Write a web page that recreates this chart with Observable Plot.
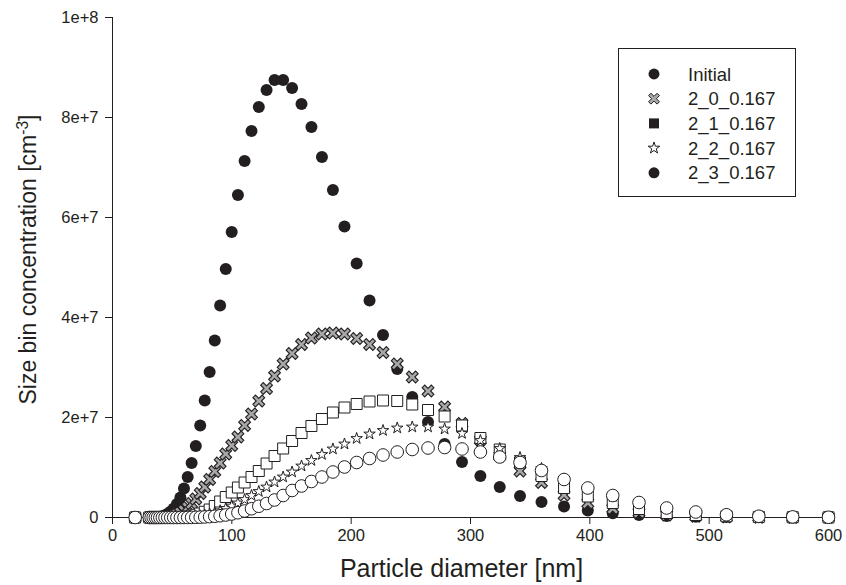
<!DOCTYPE html>
<html><head><meta charset="utf-8">
<script src="https://cdn.jsdelivr.net/npm/d3@7"></script>
<script src="https://cdn.jsdelivr.net/npm/@observablehq/plot@0.6"></script>
<style>
body{margin:0;background:#fff;}
#wrap{position:relative;width:846px;height:585px;font-family:Arial,"Liberation Sans",Helvetica,sans-serif;}
#legend{position:absolute;left:618px;top:48px;}
</style></head><body><div id="wrap"></div>
<script>
// particle diameter bins [nm]
const diameters = [19.0, 30.8, 32.4, 34.1, 35.9, 37.7, 39.7, 41.8, 44.0, 46.3, 48.8, 51.3, 54.0, 56.9, 59.9, 63.0, 66.3, 69.8, 73.5, 77.3, 81.4, 85.7, 90.2, 94.9, 99.9, 105.1, 110.7, 116.5, 122.6, 129.1, 135.8, 143.0, 150.5, 158.4, 166.7, 175.5, 184.7, 194.4, 204.6, 215.4, 226.7, 238.6, 251.2, 264.4, 278.3, 292.9, 308.3, 324.5, 341.5, 359.5, 378.4, 398.3, 419.2, 441.2, 464.4, 488.8, 514.5, 541.6, 570.0, 600.0];
// concentrations in units of 1e6 cm^-3
const initial = [0, 0, 0.01, 0.02, 0.04, 0.08, 0.15, 0.27, 0.45, 0.75, 1.2, 1.8, 2.7, 4.0, 5.8, 8.1, 10.9, 14.3, 18.4, 23.4, 29.1, 35.4, 42.4, 49.7, 57.1, 64.5, 71.3, 77.3, 82.1, 85.5, 87.5, 87.5, 85.9, 82.7, 78.1, 72.1, 65.5, 58.2, 50.8, 43.4, 36.5, 29.7, 24.1, 19.1, 14.7, 11.1, 8.3, 6.1, 4.3, 3.1, 2.2, 1.4, 0.87, 0.5, 0.3, 0.15, 0.08, 0.04, 0.02, 0.01];
const s2_0 = [0, 0, 0, 0, 0, 0, 0.01, 0.03, 0.06, 0.12, 0.22, 0.38, 0.6, 0.95, 1.4, 2.0, 2.8, 3.7, 4.8, 6.1, 7.6, 9.2, 10.9, 12.7, 14.4, 16.1, 18.4, 20.7, 23.3, 25.8, 28.3, 30.7, 32.8, 34.6, 35.9, 36.7, 36.9, 36.7, 35.8, 34.6, 33.0, 30.7, 28.1, 25.3, 22.1, 18.8, 15.5, 12.3, 9.3, 7.0, 4.5, 2.9, 1.8, 1.0, 0.5, 0.25, 0.12, 0.05, 0.02, 0.01];
const s2_1 = [0, 0, 0, 0, 0, 0, 0, 0, 0, 0.01, 0.02, 0.03, 0.05, 0.08, 0.12, 0.2, 0.35, 0.55, 0.8, 1.15, 1.6, 2.3, 3.2, 4.1, 5.0, 6.0, 7.0, 8.1, 9.3, 10.8, 12.3, 13.8, 15.3, 16.9, 18.3, 19.7, 21.0, 22.0, 22.7, 23.2, 23.4, 23.3, 22.6, 21.5, 20.2, 18.4, 15.9, 13.6, 11.0, 8.3, 5.9, 4.2, 2.9, 1.7, 0.9, 0.5, 0.25, 0.12, 0.05, 0.02];
const s2_2 = [0, 0, 0, 0, 0, 0, 0, 0, 0, 0, 0, 0, 0.01, 0.02, 0.04, 0.08, 0.14, 0.22, 0.33, 0.5, 0.7, 1.0, 1.35, 1.8, 2.3, 2.9, 3.6, 4.4, 5.2, 6.1, 7.1, 8.1, 9.1, 10.3, 11.4, 12.6, 13.7, 14.7, 15.8, 16.7, 17.4, 17.9, 18.1, 18.1, 17.7, 16.8, 15.4, 13.8, 12.0, 9.8, 7.6, 5.8, 4.2, 2.9, 1.9, 1.1, 0.6, 0.3, 0.15, 0.07];
const s2_3 = [0, 0, 0, 0, 0, 0, 0, 0, 0, 0, 0, 0, 0, 0, 0, 0.01, 0.02, 0.04, 0.07, 0.11, 0.17, 0.25, 0.35, 0.5, 0.7, 0.95, 1.3, 1.75, 2.25, 2.8, 3.5, 4.4, 5.4, 6.3, 7.2, 8.1, 9.1, 10.1, 11.0, 11.8, 12.5, 13.1, 13.6, 13.9, 14.0, 13.7, 13.1, 12.1, 11.0, 9.4, 7.6, 5.9, 4.4, 3.0, 1.9, 1.1, 0.55, 0.25, 0.12, 0.05];

const seriesNames = ["Initial", "2_0_0.167", "2_1_0.167", "2_2_0.167", "2_3_0.167"];
const xTicks = [0, 100, 200, 300, 400, 500, 600];
const yTicks = [0, 2e7, 4e7, 6e7, 8e7, 1e8];
const yTickLabels = ["0", "2e+7", "4e+7", "6e+7", "8e+7", "1e+8"];
const xTitle = "Particle diameter [nm]";
const yTitle = "Size bin concentration [cm-3]";

const rows = arr => diameters.map((d, i) => ({d, v: arr[i] * 1e6}));

const ink = "#231f20";
const font = 'Arial, "Liberation Sans", Helvetica, sans-serif';
const xSymbol = {
  draw(context, size) {
    const a = Math.sqrt(size / Math.PI), t = a * 0.28, L = a;
    const pts = [[t,L],[t,t],[L,t],[L,-t],[t,-t],[t,-L],[-t,-L],[-t,-t],[-L,-t],[-L,t],[-t,t],[-t,L]]
      .map(([x, y]) => [(x - y) / Math.SQRT2, (x + y) / Math.SQRT2]);
    context.moveTo(pts[0][0], pts[0][1]);
    for (let i = 1; i < pts.length; i++) context.lineTo(pts[i][0], pts[i][1]);
    context.closePath();
  }
};

const chart = Plot.plot({
  width: 846, height: 585,
  marginLeft: 112, marginRight: 18, marginTop: 17, marginBottom: 68,
  style: {fontFamily: font, color: ink, background: "white", overflow: "visible"},
  x: {domain: [0, 600]},
  y: {domain: [0, 1e8]},
  marks: [
    Plot.axisX({ticks: xTicks, tickSize: 7, tickPadding: 5, fontSize: 16.5, label: null, stroke: ink}),
    Plot.axisY({ticks: yTicks, tickFormat: (d, i) => yTickLabels[i], tickSize: 7, tickPadding: 7, fontSize: 16.5, label: null, stroke: ink}),
    Plot.text([xTitle], {frameAnchor: "bottom", lineAnchor: "middle", dy: 51, dx: -9, fontSize: 25, fill: ink}),
    Plot.text([yTitle], {frameAnchor: "left", textAnchor: "middle", lineAnchor: "middle", dx: -84, dy: -8, rotate: -90, fontSize: 23, fill: ink}),
    Plot.ruleY([0], {stroke: ink, strokeWidth: 1}),
    Plot.ruleX([0], {stroke: ink, strokeWidth: 1}),
    Plot.dot(rows(initial), {x: "d", y: "v", r: 6, fill: ink, stroke: "none"}),
    Plot.dot(rows(s2_0), {x: "d", y: "v", r: 6.5, symbol: xSymbol, fill: "#a8a8a8", stroke: ink, strokeWidth: 1.1}),
    Plot.dot(rows(s2_1), {x: "d", y: "v", r: 6.2, symbol: "square", fill: "white", stroke: ink, strokeWidth: 1}),
    Plot.dot(rows(s2_2), {x: "d", y: "v", r: 3.6, symbol: "star", fill: "white", stroke: ink, strokeWidth: 1}),
    Plot.dot(rows(s2_3), {x: "d", y: "v", r: 6.3, fill: "white", stroke: ink, strokeWidth: 1})
  ]
});

// superscript in y title
const yt = Array.from(chart.querySelectorAll("text")).find(t => t.textContent === yTitle);
if (yt) {
  yt.textContent = "";
  const ns = "http://www.w3.org/2000/svg";
  const a = document.createElementNS(ns, "tspan"); a.textContent = "Size bin concentration [cm"; yt.appendChild(a);
  const b = document.createElementNS(ns, "tspan"); b.textContent = "-3"; b.setAttribute("dy", "-0.5em"); b.setAttribute("font-size", "0.68em"); yt.appendChild(b);
  const c = document.createElementNS(ns, "tspan"); c.textContent = "]"; c.setAttribute("dy", "0.34em"); yt.appendChild(c);
}

const wrap = document.getElementById("wrap");
wrap.appendChild(chart);

// legend box
const lw = 178, lh = 149;
const leg = d3.select(wrap).append("svg").attr("id", "legend").attr("width", lw).attr("height", lh)
  .style("font-family", font);
leg.append("rect").attr("x", 0.5).attr("y", 0.5).attr("width", lw - 1).attr("height", lh - 1)
  .attr("fill", "white").attr("stroke", ink).attr("stroke-width", 1);
const legSym = [
  {type: d3.symbolCircle, size: Math.PI * 30, fill: ink, stroke: "none"},
  {type: xSymbol, size: Math.PI * 36, fill: "#a8a8a8", stroke: ink},
  {type: d3.symbolSquare, size: 100, fill: ink, stroke: "none"},
  {type: d3.symbolStar, size: 42, fill: "white", stroke: ink},
  {type: d3.symbolCircle, size: Math.PI * 30, fill: ink, stroke: "none"}
];
seriesNames.forEach((name, i) => {
  const y = 26 + i * 24.7;
  const s = legSym[i];
  leg.append("path").attr("d", d3.symbol(s.type, s.size)()).attr("transform", `translate(36,${y})`)
    .attr("fill", s.fill).attr("stroke", s.stroke).attr("stroke-width", 1);
  leg.append("text").attr("x", 70).attr("y", y).attr("dy", "0.36em").attr("font-size", 18.5).attr("fill", ink).text(name);
});
</script>
</body></html>
